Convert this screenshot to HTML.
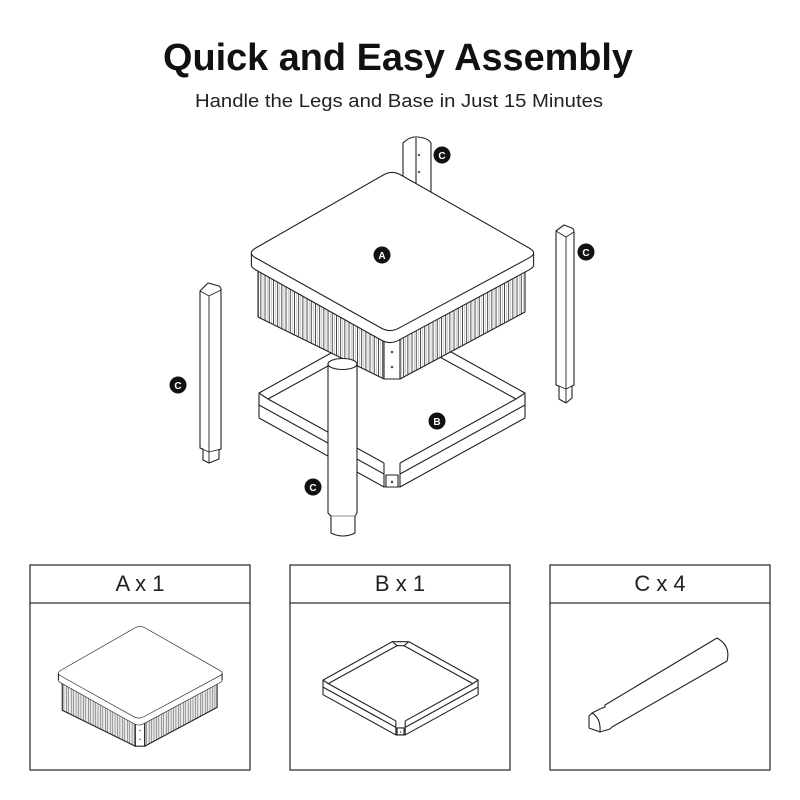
<!DOCTYPE html>
<html>
<head>
<meta charset="utf-8">
<style>
html,body{margin:0;padding:0;background:#fff;}
svg{display:block;}
#top *, #shelf * {vector-effect:non-scaling-stroke;}
</style>
</head>
<body>
<svg width="800" height="800" viewBox="0 0 800 800" xmlns="http://www.w3.org/2000/svg">
<defs>
  <pattern id="fl" patternUnits="userSpaceOnUse" width="4.2" height="8">
    <rect width="4.2" height="8" fill="#fff"/>
    <rect width="0.9" height="8" fill="#3a3a3a"/>
    <rect x="2.3" width="0.6" height="8" fill="#a8a8a8"/>
  </pattern>
  <path id="surf" d="M400.7,174.9 L529.3,248.1 Q538,253 529.2,257.8 L398.7,328.2 Q390,333 381.3,328.1 L255.7,257.9 Q247,253 255.7,248 L383.3,175 Q392,170 400.7,174.9 Z"/>
  <g id="top" stroke="#222" stroke-width="1.1" stroke-linejoin="round">
    <polygon points="258,262 384,334 384,379 258,317" fill="url(#fl)"/>
    <polygon points="400,334 525,262 525,312 400,379" fill="url(#fl)"/>
    <rect x="384" y="338" width="16" height="41" fill="#fff"/>
    <circle cx="392" cy="352" r="1.3" fill="#555" stroke="none"/>
    <circle cx="392" cy="367" r="1.3" fill="#555" stroke="none"/>
    <use href="#surf" transform="translate(0,12)" fill="#fff"/>
    <rect x="251.4" y="253" width="282.2" height="12" fill="#fff" stroke="none"/>
    <path d="M251.4,253 L251.4,265 M533.6,253 L533.6,265" fill="none"/>
    <use href="#surf" fill="#fff"/>
  </g>
  <g id="shelf" stroke="#222" stroke-width="1.1" stroke-linejoin="round" fill="none">
    <polygon points="259,393 378,327 406,327 525,393 525,418 400,487 384,487 259,418" fill="#fff"/>
    <path d="M268,399 L386,334 L398,334 L516,399"/>
    <path d="M268,399 L384,463 M516,399 L400,463"/>
    <path d="M259,393 L268,399 M525,393 L516,399 M378,327 L386,334 M406,327 L398,334"/>
    <path d="M259,405 L384,474 M525,405 L400,474"/>
    <path d="M384,463 L384,487 M400,463 L400,487"/>
    <rect x="386" y="475" width="12" height="12"/>
    <circle cx="392" cy="482" r="1.2" fill="#444" stroke="none"/>
  </g>
</defs>

<!-- Title -->
<text x="398" y="70" text-anchor="middle" font-family="Liberation Sans, sans-serif" font-weight="bold" font-size="38" fill="#111" textLength="470" lengthAdjust="spacingAndGlyphs">Quick and Easy Assembly</text>
<text x="399" y="107" text-anchor="middle" font-family="Liberation Sans, sans-serif" font-size="18" fill="#222" textLength="408" lengthAdjust="spacingAndGlyphs">Handle the Legs and Base in Just 15 Minutes</text>

<!-- Back leg -->
<g stroke="#222" stroke-width="1.1" fill="#fff" stroke-linejoin="round">
  <path d="M403,215 L403,143 Q410,136 418,137 Q428,138 431,143 L431,215 Z"/>
  <path d="M416,138 L416,215" fill="none"/>
  <circle cx="419" cy="155" r="1.2" fill="#555" stroke="none"/>
  <circle cx="419" cy="172" r="1.2" fill="#555" stroke="none"/>
</g>

<!-- Shelf B -->
<use href="#shelf"/>
<!-- Tabletop A -->
<use href="#top"/>

<!-- Front leg -->
<g stroke="#222" stroke-width="1.1" fill="#fff" stroke-linejoin="round">
  <path d="M328,513 L328,364 A14.5,5.5 0 0 1 357,364 L357,513 L355,516 L355,533 Q343,539 331,533 L331,516 Z"/>
  <path d="M328,364 A14.5,5.5 0 0 0 357,364" fill="none"/>
  <path d="M331,516 L355,516" fill="none" stroke-width="0.6"/>
</g>

<!-- Left leg -->
<g stroke="#222" stroke-width="1.1" fill="#fff" stroke-linejoin="round">
  <path d="M200,291 L208,283 L219,286 Q221,287 221,290 L221,449 L219,450 L219,459 L209,463 L203,460 L203,449 L200,448 Z"/>
  <path d="M200,291 L209,296 L221,290 M209,296 L209,452 M200,448 L209,452 L221,449 M209,452 L209,463" fill="none" stroke-width="0.9"/>
</g>

<!-- Right leg -->
<g stroke="#222" stroke-width="1.1" fill="#fff" stroke-linejoin="round">
  <path d="M556,231 L564,225 L572,228 Q574,229 574,232 L574,385 L572,386 L572,398 L566,403 L559,399 L559,386 L556,385 Z"/>
  <path d="M556,231 L566,237 L574,232 M566,237 L566,389 M556,385 L566,389 L574,385 M566,389 L566,403" fill="none" stroke-width="0.9"/>
</g>

<!-- Labels -->
<g font-family="Liberation Sans, sans-serif" font-weight="bold" font-size="10" fill="#fff" text-anchor="middle">
  <circle cx="382" cy="255" r="8.5" fill="#111"/><text x="382" y="259">A</text>
  <circle cx="437" cy="421" r="8.5" fill="#111"/><text x="437" y="425">B</text>
  <circle cx="442" cy="155" r="8.5" fill="#111"/><text x="442" y="159">C</text>
  <circle cx="586" cy="252" r="8.5" fill="#111"/><text x="586" y="256">C</text>
  <circle cx="178" cy="385" r="8.5" fill="#111"/><text x="178" y="389">C</text>
  <circle cx="313" cy="487" r="8.5" fill="#111"/><text x="313" y="491">C</text>
</g>

<!-- Boxes -->
<g stroke="#333" stroke-width="1.3" fill="none">
  <rect x="30" y="565" width="220" height="205"/>
  <line x1="30" y1="603" x2="250" y2="603"/>
  <rect x="290" y="565" width="220" height="205"/>
  <line x1="290" y1="603" x2="510" y2="603"/>
  <rect x="550" y="565" width="220" height="205"/>
  <line x1="550" y1="603" x2="770" y2="603"/>
</g>
<g font-family="Liberation Sans, sans-serif" font-size="22" fill="#222" text-anchor="middle">
  <text x="140" y="591">A x 1</text>
  <text x="400" y="591">B x 1</text>
  <text x="660" y="591">C x 4</text>
</g>

<!-- Small A -->
<use href="#top" transform="matrix(0.58,0,0,0.58,-87.4,526.4)"/>
<!-- Small B -->
<use href="#shelf" transform="matrix(0.583,0,0,0.583,172,451)"/>
<!-- Small C -->
<g stroke="#222" stroke-width="1.1" fill="#fff" stroke-linejoin="round">
  <path d="M717,638 Q731,646 727,661 L612,727 L610,729 L600,732 L589,728 L589,716 L592,713 L600,709 L605,707 L605,705 Z"/>
  <path d="M592,713 Q601,718 600,732" fill="none"/>
</g>
</svg>
</body>
</html>
